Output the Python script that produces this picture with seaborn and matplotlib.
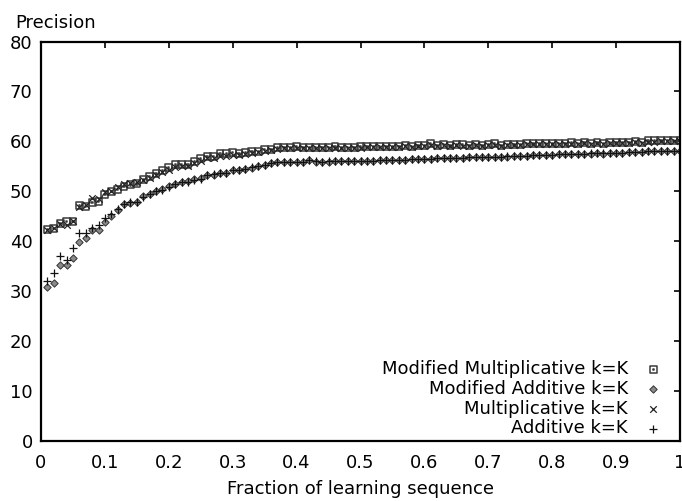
import numpy as np
import seaborn as sns
import matplotlib.pyplot as plt
from matplotlib.path import Path

# x positions: fraction of learning sequence, 0.01 .. 1.00
fraction = np.round(np.arange(1, 101) * 0.01, 2)

mod_mult = [
    42.4, 42.6, 43.6, 43.9, 44.0, 47.1, 46.9, 47.7, 47.9, 49.3,
    49.9, 50.3, 50.9, 51.3, 51.5, 52.3, 53.0, 53.6, 54.1, 54.7,
    55.3, 55.3, 55.3, 56.0, 56.5, 57.0, 57.0, 57.5, 57.5, 57.8,
    57.6, 57.8, 58.0, 58.0, 58.4, 58.4, 58.8, 58.8, 58.8, 58.9,
    58.8, 58.8, 58.7, 58.8, 58.8, 58.9, 58.7, 58.8, 58.8, 58.9,
    58.9, 59.0, 58.9, 59.0, 58.9, 59.0, 59.2, 59.0, 59.1, 59.2,
    59.5, 59.2, 59.4, 59.1, 59.3, 59.3, 59.2, 59.3, 59.2, 59.4,
    59.5, 59.2, 59.4, 59.3, 59.4, 59.6, 59.5, 59.5, 59.6, 59.5,
    59.6, 59.6, 59.7, 59.6, 59.7, 59.6, 59.7, 59.6, 59.7, 59.7,
    59.8, 59.8, 59.9, 59.8, 60.1, 60.1, 60.1, 60.2, 60.1, 60.2]

mod_add = [
    30.9, 31.7, 35.3, 35.3, 36.6, 39.9, 40.6, 42.3, 42.3, 43.9,
    45.1, 46.3, 47.5, 47.6, 47.8, 49.0, 49.5, 50.0, 50.4, 51.0,
    51.5, 51.8, 52.0, 52.4, 52.6, 53.2, 53.3, 53.6, 53.6, 54.3,
    54.3, 54.5, 54.7, 55.0, 55.3, 55.6, 55.8, 55.8, 55.8, 55.9,
    55.9, 56.2, 55.9, 55.9, 55.9, 56.0, 56.0, 56.0, 56.1, 56.1,
    56.1, 56.0, 56.2, 56.2, 56.3, 56.2, 56.3, 56.4, 56.4, 56.4,
    56.5, 56.6, 56.6, 56.6, 56.7, 56.7, 56.8, 56.8, 56.8, 56.8,
    56.9, 56.9, 56.9, 57.0, 57.0, 57.1, 57.2, 57.2, 57.3, 57.3,
    57.4, 57.4, 57.5, 57.5, 57.5, 57.5, 57.6, 57.5, 57.6, 57.6,
    57.7, 57.9, 57.8, 57.8, 58.0, 58.1, 58.0, 58.0, 58.0, 58.0]

mult = [
    42.2, 42.6, 43.4, 43.3, 44.1, 46.8, 47.3, 48.6, 48.4, 49.9,
    50.0, 50.9, 51.4, 51.7, 51.8, 52.2, 52.7, 53.3, 53.8, 54.3,
    54.8, 55.0, 55.0, 55.6, 56.1, 56.6, 56.7, 57.0, 57.1, 57.3,
    57.3, 57.5, 57.7, 57.8, 58.0, 58.2, 58.5, 58.6, 58.6, 58.7,
    58.6, 58.6, 58.6, 58.7, 58.6, 58.7, 58.6, 58.6, 58.7, 58.7,
    58.8, 58.8, 58.8, 58.9, 58.8, 58.9, 59.0, 58.9, 59.0, 59.0,
    59.2, 59.1, 59.2, 59.0, 59.2, 59.1, 59.1, 59.2, 59.1, 59.2,
    59.3, 59.1, 59.2, 59.2, 59.3, 59.4, 59.4, 59.4, 59.4, 59.4,
    59.5, 59.5, 59.5, 59.5, 59.6, 59.5, 59.6, 59.5, 59.6, 59.6,
    59.7, 59.7, 59.8, 59.7, 59.9, 59.9, 60.0, 60.0, 60.0, 60.0]

additive = [
    32.1, 33.6, 37.1, 36.3, 38.6, 41.7, 41.7, 42.6, 43.3, 44.6,
    45.5, 46.5, 47.4, 47.8, 47.9, 48.8, 49.4, 50.0, 50.3, 50.9,
    51.4, 51.9, 51.9, 52.3, 52.4, 53.3, 53.4, 53.6, 53.7, 54.3,
    54.2, 54.4, 54.8, 55.0, 55.3, 55.6, 55.8, 55.9, 55.8, 55.9,
    55.9, 56.2, 56.0, 55.9, 56.0, 56.0, 56.0, 56.1, 56.1, 56.1,
    56.1, 56.1, 56.2, 56.2, 56.3, 56.3, 56.3, 56.4, 56.4, 56.5,
    56.5, 56.6, 56.6, 56.7, 56.7, 56.7, 56.8, 56.8, 56.8, 56.9,
    56.9, 56.9, 57.0, 57.0, 57.1, 57.1, 57.2, 57.3, 57.3, 57.3,
    57.4, 57.4, 57.5, 57.5, 57.5, 57.6, 57.6, 57.6, 57.6, 57.7,
    57.7, 57.9, 57.8, 57.9, 58.0, 58.1, 58.0, 58.1, 58.0, 58.1]

x_ticks = [0, 0.1, 0.2, 0.3, 0.4, 0.5, 0.6, 0.7, 0.8, 0.9, 1]
x_labels = ['0', '0.1', '0.2', '0.3', '0.4', '0.5', '0.6', '0.7', '0.8', '0.9', '1']
y_ticks = [0, 10, 20, 30, 40, 50, 60, 70, 80]

sns.set_style('white')
plt.rcParams['font.family'] = ['DejaVu Sans']
plt.rcParams['text.color'] = 'black'
plt.rcParams['axes.labelcolor'] = 'black'
plt.rcParams['xtick.color'] = 'black'
plt.rcParams['ytick.color'] = 'black'

# box with a dot in the middle (gnuplot style square point)
box_dot = Path(
    [(-1, -1), (1, -1), (1, 1), (-1, 1), (-1, -1),
     (-0.2, -0.2), (0.2, -0.2), (0.2, 0.2), (-0.2, 0.2), (-0.2, -0.2)],
    [Path.MOVETO, Path.LINETO, Path.LINETO, Path.LINETO, Path.CLOSEPOLY,
     Path.MOVETO, Path.LINETO, Path.LINETO, Path.LINETO, Path.CLOSEPOLY])

fig = plt.figure(figsize=(6.82, 5.01), dpi=100)
ax = fig.add_axes([41 / 682, 60 / 501, 639 / 682, 399.5 / 501])

sns.scatterplot(x=fraction, y=mod_mult, marker=box_dot, s=24,
                facecolors='none', edgecolor='#3a3a3a', linewidth=1.1,
                label='Modified Multiplicative k=K', ax=ax)
sns.scatterplot(x=fraction, y=mod_add, marker='D', s=14,
                color='#8a8a8a', edgecolor='#333333', linewidth=0.7,
                label='Modified Additive k=K', ax=ax)
sns.scatterplot(x=fraction, y=mult, marker='x', s=22,
                color='#222222', linewidth=0.9,
                label='Multiplicative k=K', ax=ax)
sns.scatterplot(x=fraction, y=additive, marker='+', s=30,
                color='#111111', linewidth=0.9,
                label='Additive k=K', ax=ax)

ax.set_xlim(0, 1)
ax.set_ylim(0, 80)
ax.set_xticks(x_ticks)
ax.set_xticklabels(x_labels)
ax.set_yticks(y_ticks)

for side in ['left', 'right', 'top', 'bottom']:
    ax.spines[side].set_visible(True)
    ax.spines[side].set_color('black')
    ax.spines[side].set_linewidth(1.6)

ax.tick_params(direction='in', top=True, right=True, length=4,
               width=1.2, labelsize=13)
ax.tick_params(axis='x', pad=9)
ax.tick_params(axis='y', pad=6)

ax.set_xlabel('Fraction of learning sequence', fontsize=13, labelpad=6)
ax.set_ylabel('Precision', fontsize=13, rotation=0, ha='left', va='baseline')
ax.yaxis.set_label_coords(-0.041, 1.034)

ax.legend(loc='lower right', bbox_to_anchor=(0.978, 0.0),
          markerfirst=False, frameon=False,
          fontsize=13, handlelength=1.0, handletextpad=0.9,
          labelspacing=0.1, borderpad=0.2, borderaxespad=0.0)

plt.savefig('out.png', dpi=100)
plt.close()
